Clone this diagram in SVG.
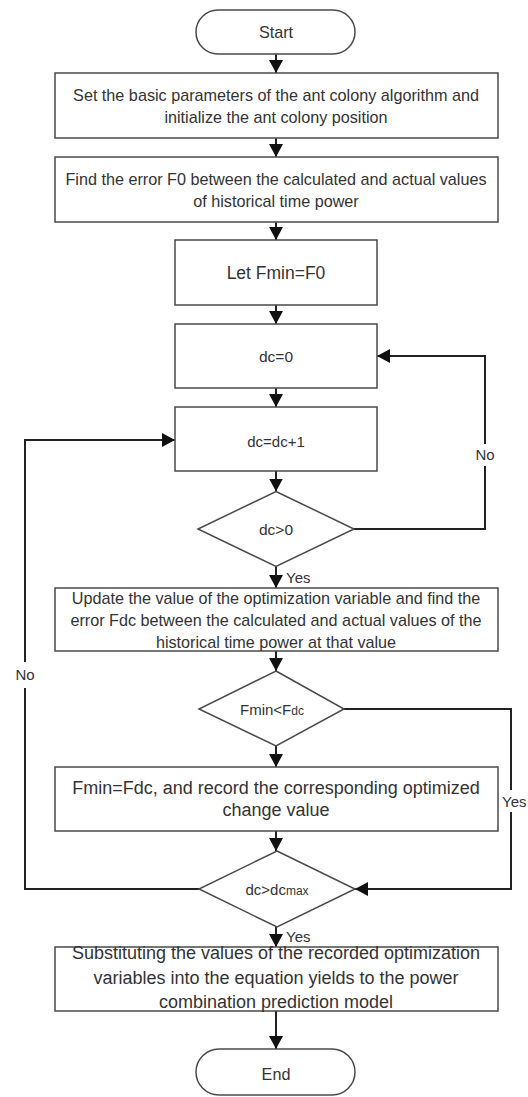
<svg xmlns="http://www.w3.org/2000/svg" width="528" height="1097" viewBox="0 0 528 1097">
<style>
.shape{fill:#fff;stroke:#4a4a4a;stroke-width:1.5}
.conn{fill:none;stroke:#222;stroke-width:2}
text{font-family:"Liberation Sans",Arial,sans-serif;fill:#333;text-anchor:middle}
.t16{font-size:16.2px}
.t18{font-size:18px}
.lbl{font-size:15px}
.sub{font-size:12px}
</style>
<defs>
<marker id="arr" markerUnits="userSpaceOnUse" markerWidth="13" markerHeight="14" refX="13" refY="7" orient="auto">
<path d="M0,0 L13,7 L0,14 z" fill="#111"/>
</marker>
</defs>
<rect width="528" height="1097" fill="#fff"/>
<g id="connectors">
<path class="conn" d="M276,54 V73" marker-end="url(#arr)"/>
<path class="conn" d="M276,138 V157" marker-end="url(#arr)"/>
<path class="conn" d="M276,222 V240" marker-end="url(#arr)"/>
<path class="conn" d="M276,305 V324" marker-end="url(#arr)"/>
<path class="conn" d="M276,388 V407" marker-end="url(#arr)"/>
<path class="conn" d="M276,471 V491.5" marker-end="url(#arr)"/>
<path class="conn" d="M354,529 H485 V466"/>
<path class="conn" d="M485,444 V356 H377" marker-end="url(#arr)"/>
<path class="conn" d="M276,566.5 V588" marker-end="url(#arr)"/>
<path class="conn" d="M276,651 V671" marker-end="url(#arr)"/>
<path class="conn" d="M344,709 H511 V790"/>
<path class="conn" d="M511,812 V889 H355" marker-end="url(#arr)"/>
<path class="conn" d="M276,746 V767" marker-end="url(#arr)"/>
<path class="conn" d="M276,831 V851" marker-end="url(#arr)"/>
<path class="conn" d="M199,889 H25 V688"/>
<path class="conn" d="M25,662 V440 H175" marker-end="url(#arr)"/>
<path class="conn" d="M276,927 V947" marker-end="url(#arr)"/>
<path class="conn" d="M276,1011 V1049" marker-end="url(#arr)"/>
<text class="lbl" x="485" y="460">No</text>
<text class="lbl" x="25" y="680">No</text>
<text class="lbl" x="286" y="583" style="text-anchor:start">Yes</text>
<text class="lbl" x="502" y="807" style="text-anchor:start">Yes</text>
<text class="lbl" x="286" y="942" style="text-anchor:start">Yes</text>
</g>
<g id="start">
<rect class="shape" x="196" y="10" width="159" height="44" rx="22"/>
<text class="t16" x="276" y="38">Start</text>
</g>
<g id="init">
<rect class="shape" x="55" y="73" width="443" height="65"/>
<text class="t16" x="276" y="101">Set the basic parameters of the ant colony algorithm and</text>
<text class="t16" x="276" y="123">initialize the ant colony position</text>
</g>
<g id="findF0">
<rect class="shape" x="55" y="157" width="443" height="65"/>
<text class="t16" x="276" y="185">Find the error F0 between the calculated and actual values</text>
<text class="t16" x="276" y="207">of historical time power</text>
</g>
<g id="letFmin">
<rect class="shape" x="175" y="240" width="202" height="65"/>
<text class="t18" x="276" y="279" style="font-size:17.5px">Let Fmin=F0</text>
</g>
<g id="dc0">
<rect class="shape" x="175" y="324" width="202" height="64"/>
<text class="lbl" x="276" y="362" style="font-size:15.5px">dc=0</text>
</g>
<g id="dcinc">
<rect class="shape" x="175" y="407" width="202" height="64"/>
<text class="lbl" x="276" y="447">dc=dc+1</text>
</g>
<g id="dcgt0">
<polygon class="shape" points="276,491.5 354,529 276,566.5 198,529"/>
<text class="lbl" x="276" y="535" style="font-size:15.5px">dc&gt;0</text>
</g>
<g id="update">
<rect class="shape" x="55" y="588" width="443" height="63"/>
<text class="t16" x="276" y="604">Update the value of the optimization variable and find the</text>
<text class="t16" x="276" y="626">error Fdc between the calculated and actual values of the</text>
<text class="t16" x="276" y="648">historical time power at that value</text>
</g>
<g id="cmpF">
<polygon class="shape" points="276,671 344,709 276,746 199,709"/>
<text class="lbl" x="272" y="715">Fmin&lt;F<tspan class="sub">dc</tspan></text>
</g>
<g id="record">
<rect class="shape" x="55" y="767" width="443" height="64"/>
<text class="t18" x="276" y="794">Fmin=Fdc, and record the corresponding optimized</text>
<text class="t18" x="276" y="816">change value</text>
</g>
<g id="cmpdc">
<polygon class="shape" points="277,851 355,889 277,927 199,889"/>
<text class="lbl" x="277" y="895">dc&gt;dc<tspan class="sub">max</tspan></text>
</g>
<g id="substitute">
<rect class="shape" x="55" y="947" width="443" height="64"/>
<text class="t18" x="276" y="959">Substituting the values of the recorded optimization</text>
<text class="t18" x="276" y="984">variables into the equation yields to the power</text>
<text class="t18" x="276" y="1008">combination prediction model</text>
</g>
<g id="end">
<rect class="shape" x="196" y="1049" width="159" height="46" rx="23"/>
<text class="t16" x="276" y="1080">End</text>
</g>
</svg>
